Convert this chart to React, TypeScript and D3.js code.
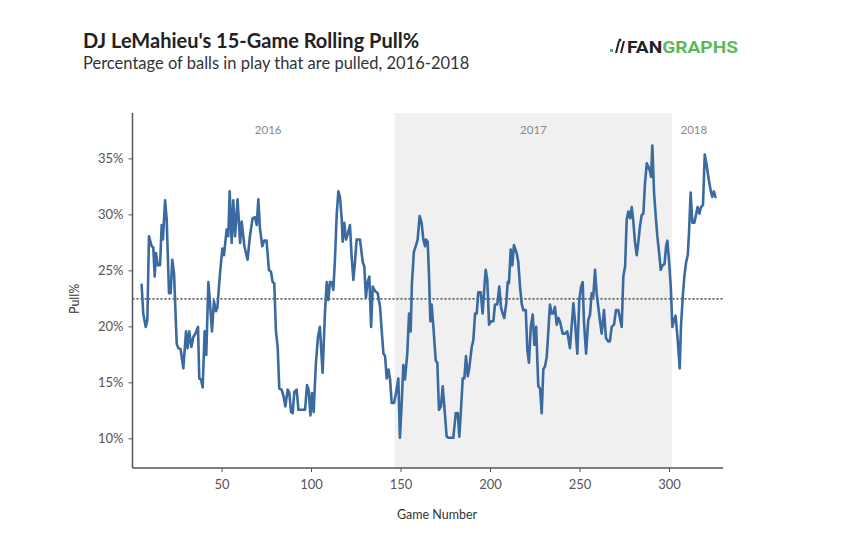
import React from "react";
import * as d3 from "d3";

const games: number[] = [
  5.1, 6.0, 7.4, 8.3, 9.2, 10.7, 11.6, 12.4, 13.1, 14.1, 15.4, 16.3, 17.0, 18.2, 19.1, 20.4, 21.3, 22.2, 23.2, 24.7,
  25.6, 26.9, 28.4, 29.9, 30.8, 31.7, 32.9, 34.0, 35.1, 36.6, 37.3, 38.3, 39.2, 40.3, 41.2, 42.4, 43.3, 44.4, 45.5, 46.6,
  47.4, 48.9, 50.2, 51.1, 52.6, 53.5, 54.3, 55.4, 56.3, 57.3, 58.7, 60.1, 61.0, 62.5, 64.3, 65.6, 67.1, 68.4, 69.4, 70.3,
  71.2, 72.5, 73.6, 74.9, 76.2, 77.4, 78.3, 79.2, 80.1, 81.1, 82.0, 83.3, 84.4, 85.4, 86.7, 87.6, 88.6, 89.5, 90.4, 91.7,
  92.7, 94.5, 96.4, 97.5, 98.4, 99.4, 100.3, 101.2, 102.4, 103.6, 104.7, 106.2, 107.5, 108.5, 109.4, 110.3, 111.3, 112.2, 113.1, 114.1,
  115.0, 115.9, 116.9, 117.4, 118.3, 119.3, 120.4, 121.5, 122.4, 123.4, 124.3, 125.2, 127.1, 128.6, 129.5, 130.4, 131.2, 132.3, 133.3, 134.2,
  135.5, 137.0, 138.3, 139.2, 140.2, 141.1, 142.0, 143.0, 143.9, 144.8, 146.1, 147.2, 148.5, 149.4, 150.4, 151.3, 152.2, 153.5, 154.5, 155.4,
  156.1, 157.2, 158.4, 159.3, 160.4, 161.5, 162.5, 163.4, 164.0, 164.9, 165.6, 166.4, 167.1, 168.1, 169.4, 170.3, 171.2, 172.3, 173.3, 174.2,
  175.5, 176.5, 177.9, 179.2, 180.6, 181.7, 182.6, 183.5, 184.5, 185.4, 186.3, 187.3, 188.2, 189.5, 190.4, 191.4, 192.3, 193.2, 194.5, 195.6,
  196.6, 197.3, 198.2, 199.2, 200.3, 201.6, 202.5, 203.8, 204.9, 205.9, 207.0, 207.7, 208.8, 209.6, 210.3, 211.3, 212.2, 213.1, 214.6, 215.5,
  216.5, 217.4, 218.3, 219.7, 220.6, 221.5, 222.5, 223.6, 224.5, 225.5, 226.7, 227.7, 228.6, 229.5, 230.5, 231.4, 232.3, 233.2, 234.2, 235.1,
  236.0, 237.0, 237.9, 238.8, 240.3, 241.6, 242.9, 244.4, 245.4, 246.3, 247.2, 248.5, 249.6, 250.6, 251.5, 252.2, 253.4, 254.6, 255.6, 256.5,
  257.4, 258.4, 259.3, 260.2, 261.2, 262.1, 263.4, 264.5, 265.8, 266.7, 267.7, 269.0, 270.1, 271.4, 273.3, 274.2, 275.2, 276.1, 277.0, 278.0,
  278.9, 279.8, 280.7, 281.7, 282.6, 283.5, 284.5, 285.4, 286.3, 287.3, 288.2, 289.1, 289.7, 290.4, 291.4, 292.3, 293.2, 294.2, 295.1, 296.1,
  297.2, 298.1, 298.8, 299.7, 300.7, 301.6, 302.5, 303.4, 304.6, 305.7, 306.4, 307.4, 308.3, 309.2, 310.2, 310.9, 311.8, 312.8, 313.9, 314.8,
  315.7, 316.7, 317.6, 318.7, 319.7, 320.7, 322.0, 323.1, 323.9, 324.8, 325.7,
];

const pullPct: number[] = [
  23.75, 21.2, 20.0, 20.6, 28.1, 27.2, 27.1, 24.5, 26.6, 25.5, 25.5, 29.1, 27.8, 31.3, 29.6, 23.0, 23.0, 26.0, 24.8, 18.5,
  18.1, 18.0, 16.3, 19.6, 18.1, 19.6, 18.2, 19.1, 19.4, 20.0, 15.4, 15.3, 14.6, 19.6, 17.5, 24.0, 22.1, 19.6, 22.3, 21.4,
  21.7, 24.8, 27.0, 26.4, 28.7, 28.1, 32.1, 27.5, 31.3, 28.1, 31.4, 27.5, 29.4, 27.2, 26.0, 28.1, 29.7, 29.8, 29.1, 31.4,
  28.8, 27.2, 27.7, 27.7, 25.1, 24.9, 24.0, 23.9, 19.7, 18.2, 14.5, 14.4, 13.8, 12.9, 14.4, 14.1, 12.4, 12.3, 14.2, 14.4,
  12.6, 12.6, 12.6, 14.8, 14.4, 12.1, 14.1, 12.4, 16.6, 19.1, 20.0, 15.9, 21.2, 24.0, 22.4, 24.0, 24.0, 23.3, 26.0, 30.1,
  32.1, 31.6, 29.6, 27.6, 29.3, 27.8, 28.4, 29.1, 26.3, 24.2, 25.8, 27.8, 27.8, 25.8, 25.4, 22.6, 23.9, 24.5, 20.0, 23.6,
  23.2, 23.0, 21.8, 19.7, 17.6, 17.4, 15.4, 16.2, 15.3, 13.2, 13.2, 14.1, 15.4, 10.1, 13.2, 16.6, 15.3, 17.6, 21.2, 19.6,
  23.9, 26.7, 27.3, 27.8, 29.9, 29.3, 27.8, 27.2, 27.8, 27.6, 24.8, 20.5, 22.0, 20.0, 17.0, 16.8, 12.6, 12.9, 14.7, 12.9,
  10.2, 10.1, 10.1, 10.1, 12.3, 12.3, 10.2, 12.6, 15.4, 15.4, 17.4, 15.6, 16.4, 18.2, 18.8, 21.2, 21.2, 23.1, 23.1, 21.2,
  23.6, 25.1, 24.2, 20.2, 20.5, 20.5, 22.0, 22.0, 23.6, 21.7, 21.1, 20.8, 22.1, 24.0, 23.9, 26.9, 25.5, 27.3, 26.6, 25.8,
  23.6, 22.1, 21.5, 21.5, 17.9, 16.8, 20.0, 21.1, 18.4, 20.0, 14.7, 14.5, 12.3, 16.2, 16.5, 17.3, 19.6, 22.0, 21.2, 21.2,
  21.8, 20.2, 20.8, 20.5, 19.4, 19.4, 19.6, 18.1, 20.2, 22.1, 20.5, 17.6, 22.4, 23.6, 24.0, 20.5, 17.6, 20.6, 21.1, 23.0,
  22.7, 25.1, 23.0, 21.8, 20.5, 19.4, 21.5, 19.0, 18.7, 18.7, 20.0, 20.2, 21.5, 21.5, 20.0, 24.5, 25.4, 29.6, 30.3, 29.7,
  30.7, 29.4, 27.6, 26.4, 27.6, 29.0, 30.0, 30.1, 32.8, 34.6, 34.3, 33.9, 33.4, 36.2, 31.9, 29.9, 28.1, 26.6, 25.1, 25.5,
  25.6, 27.2, 27.7, 26.0, 23.6, 20.0, 20.6, 21.0, 18.8, 16.3, 20.0, 22.7, 24.5, 25.7, 26.4, 28.4, 32.0, 29.3, 29.3, 30.0,
  30.7, 30.1, 30.7, 30.9, 35.4, 34.5, 33.1, 32.1, 31.6, 32.1, 31.6,
];

const seasonLabels: string[] = ["2016", "2017", "2018"];
const seasonBreaks: number[] = [146.5, 301.5];
const averagePull = 22.5;
const xTicks: number[] = [50, 100, 150, 200, 250, 300];
const yTicks: number[] = [10, 15, 20, 25, 30, 35];

const W = 841;
const H = 537;
const FONT = "Lato, 'Open Sans', sans-serif";

export default function App() {
  const x = d3.scaleLinear().domain([0, 330]).range([132.5, 723.2]);
  const y = d3.scaleLinear().domain([7.4, 39.1]).range([468, 113]);
  const [x0, x1] = x.range();
  const [yBottom, yTop] = y.range();

  const pts = games.map((g, i) => [g, pullPct[i]] as [number, number]);
  const line = d3
    .line<[number, number]>()
    .x((d) => x(d[0]))
    .y((d) => y(d[1]));

  const bounds = [games[0], ...seasonBreaks, games[games.length - 1]];

  return (
    <div style={{ position: "absolute", left: 0, top: 0 }}>
      <svg width={W} height={H} style={{ display: "block", background: "#fff" }} fontFamily={FONT}>
        <rect x={0} y={0} width={W} height={H} fill="#fff" />
        {/* shaded 2017 season */}
        <rect
          x={x(seasonBreaks[0])}
          y={yTop}
          width={x(seasonBreaks[1]) - x(seasonBreaks[0])}
          height={yBottom - yTop}
          fill="#f0f0f0"
        />
        {seasonLabels.map((s, i) => (
          <text
            key={s}
            x={(x(bounds[i]) + x(bounds[i + 1])) / 2}
            y={134}
            textAnchor="middle"
            fontSize={11.5}
            fill="#888"
          >
            {s}
          </text>
        ))}
        {/* average dotted line */}
        <line
          x1={x0}
          x2={x1}
          y1={y(averagePull)}
          y2={y(averagePull)}
          stroke="#222"
          strokeWidth={1.3}
          strokeDasharray="2,2"
        />
        {/* data line */}
        <path
          d={line(pts) || ""}
          fill="none"
          stroke="#3a6aa0"
          strokeWidth={2.6}
          strokeLinejoin="round"
          strokeLinecap="round"
        />
        {/* axes */}
        <line x1={x0} x2={x0} y1={yTop} y2={yBottom} stroke="#555" strokeWidth={1.5} />
        <line x1={x0} x2={x1} y1={yBottom} y2={yBottom} stroke="#555" strokeWidth={1.5} />
        {yTicks.map((t) => (
          <g key={t}>
            <line x1={x0 - 4} x2={x0} y1={y(t)} y2={y(t)} stroke="#555" strokeWidth={1} />
            <text x={x0 - 9} y={y(t) + 4.5} textAnchor="end" fontSize={13} fill="#555">
              {t}%
            </text>
          </g>
        ))}
        {xTicks.map((t) => (
          <g key={t}>
            <line x1={x(t)} x2={x(t)} y1={yBottom} y2={yBottom + 4} stroke="#555" strokeWidth={1} />
            <text x={x(t)} y={yBottom + 21} textAnchor="middle" fontSize={13} fill="#555">
              {t}
            </text>
          </g>
        ))}
        <text x={437} y={519} textAnchor="middle" fontSize={12.5} fill="#333">
          Game Number
        </text>
        <text
          transform={`translate(79, ${y(averagePull)}) rotate(-90)`}
          textAnchor="middle"
          fontSize={12.5}
          fill="#333"
        >
          Pull%
        </text>
        {/* title */}
        <text x={83} y={48} fontSize={20} fontWeight={700} fill="#222">
          DJ LeMahieu's 15-Game Rolling Pull%
        </text>
        <text x={83} y={69} fontSize={16.5} fill="#333">
          Percentage of balls in play that are pulled, 2016-2018
        </text>
        {/* logo */}
        <g>
          <rect x={610} y={49} width={3} height={3} fill="#5cb85c" />
          <path d="M615 53 L618 41 L620 41 L617 53 Z" fill="#222" />
          <path d="M620 53 L623 41 L625 41 L622 53 Z" fill="#222" />
          <circle cx={620} cy={40} r={1.5} fill="#222" />
          <text x={627} y={53} fontSize={17} fontWeight={700} fontFamily="Roboto, sans-serif" textLength={111} lengthAdjust="spacingAndGlyphs">
            <tspan fill="#222">FAN</tspan>
            <tspan fill="#5cb85c">GRAPHS</tspan>
          </text>
        </g>
      </svg>
    </div>
  );
}
